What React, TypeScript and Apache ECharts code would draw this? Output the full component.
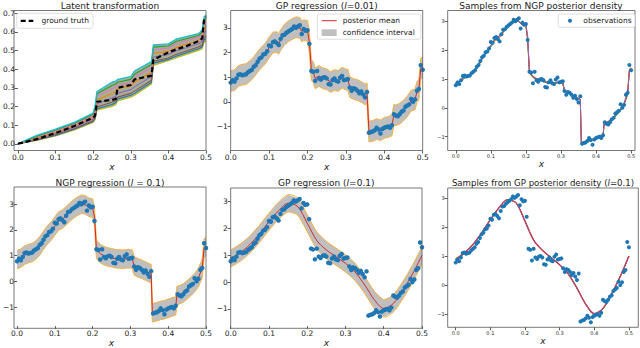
import React, { useEffect, useRef } from "react";
import * as echarts from "echarts";

// ---------- observations (shared by panels 2-6) ----------
const obsX = [0, 0.005, 0.01, 0.015, 0.02, 0.025, 0.03, 0.035, 0.04, 0.045, 0.05, 0.055, 0.06, 0.065, 0.07, 0.075, 0.08, 0.085, 0.09, 0.095,
  0.1, 0.105, 0.11, 0.115, 0.12, 0.125, 0.13, 0.135, 0.14, 0.145, 0.15, 0.155, 0.16, 0.165, 0.17, 0.175, 0.18, 0.185, 0.19, 0.195,
  0.2, 0.205, 0.21, 0.215, 0.22, 0.225, 0.23, 0.235, 0.24, 0.245, 0.25, 0.255, 0.26, 0.265, 0.27, 0.275, 0.28, 0.285, 0.29, 0.295,
  0.3, 0.305, 0.31, 0.315, 0.32, 0.325, 0.33, 0.335, 0.34, 0.345, 0.35, 0.355, 0.36, 0.365, 0.37, 0.375, 0.38, 0.385, 0.39, 0.395,
  0.4, 0.405, 0.41, 0.415, 0.42, 0.425, 0.43, 0.435, 0.44, 0.445, 0.45, 0.455, 0.46, 0.465, 0.47, 0.475, 0.48, 0.485, 0.49, 0.495, 0.5];
const obsY = [0.78, 0.88, 0.82, 0.95, 1.1, 1.12, 1.08, 1.1, 1.12, 1.2, 1.25, 1.3, 1.42, 1.48, 1.62, 1.75, 1.8, 1.92, 1.95, 2.05,
  2.28, 2.25, 2.42, 2.45, 2.38, 2.3, 2.55, 2.7, 2.72, 2.8, 2.85, 2.9, 2.95, 3.05, 3.0, 3.05, 3.1, 2.75, 2.95, 2.88,
  2.9, 2.35, 1.25, 1.22, 0.85, 1.25, 0.95, 0.9, 0.98, 1.0, 0.95, 0.72, 0.7, 0.88, 0.95, 0.85, 0.82, 0.98, 1.05, 0.88,
  0.9, 0.92, 0.58, 0.45, 0.55, 0.52, 0.45, 0.35, 0.42, 0.3, 0.18, 0.4, -1.25, -1.22, -1.2, -1.15, -1.05, -1.12, -1.28, -1.1,
  -1.05, -1.02, -1.0, -1.05, -0.95, -0.5, -0.55, -0.58, -0.5, -0.4, -0.35, -0.2, -0.15, -0.1, 0.12, 0.0, 0.1, 0.45, 0.52, 1.48, 1.3];

// ---------- latent transformation ----------
const latentX = [0, 0.05, 0.1, 0.15, 0.2, 0.205, 0.21, 0.25, 0.26, 0.265, 0.3, 0.31, 0.355, 0.36, 0.4, 0.42, 0.45, 0.48, 0.49, 0.495, 0.5];
const latentTruth = [0, 0.025, 0.058, 0.095, 0.14, 0.15, 0.225, 0.235, 0.24, 0.3, 0.315, 0.345, 0.365, 0.45, 0.49, 0.505, 0.525, 0.55, 0.565, 0.67, 0.68];
const latentUpper = [0, 0.045, 0.078, 0.115, 0.165, 0.2, 0.28, 0.33, 0.335, 0.345, 0.36, 0.39, 0.44, 0.53, 0.535, 0.56, 0.575, 0.59, 0.61, 0.68, 0.69];
const latentLower = [0, 0.018, 0.042, 0.075, 0.115, 0.13, 0.18, 0.2, 0.21, 0.23, 0.25, 0.26, 0.32, 0.42, 0.445, 0.46, 0.48, 0.5, 0.51, 0.545, 0.55];
const latentPink = [0, 0.038, 0.07, 0.106, 0.152, 0.182, 0.255, 0.295, 0.305, 0.315, 0.33, 0.355, 0.41, 0.505, 0.512, 0.535, 0.553, 0.57, 0.588, 0.645, 0.655];
const latentOrange = [0, 0.032, 0.062, 0.098, 0.142, 0.168, 0.235, 0.27, 0.28, 0.295, 0.31, 0.33, 0.385, 0.485, 0.495, 0.515, 0.535, 0.553, 0.57, 0.62, 0.63];
const latentPurple = [0, 0.027, 0.055, 0.09, 0.133, 0.155, 0.215, 0.245, 0.255, 0.27, 0.29, 0.305, 0.36, 0.465, 0.478, 0.497, 0.516, 0.536, 0.55, 0.595, 0.605];
const latentBrown = [0, 0.022, 0.048, 0.082, 0.124, 0.142, 0.197, 0.222, 0.232, 0.25, 0.27, 0.282, 0.34, 0.442, 0.46, 0.478, 0.498, 0.518, 0.53, 0.57, 0.578];
const latentGreen = [0, 0.041, 0.074, 0.11, 0.158, 0.19, 0.268, 0.312, 0.32, 0.33, 0.345, 0.372, 0.425, 0.518, 0.524, 0.548, 0.564, 0.58, 0.6, 0.662, 0.672];
const latentBlue = [0, 0.02, 0.045, 0.078, 0.119, 0.136, 0.188, 0.21, 0.22, 0.24, 0.26, 0.27, 0.33, 0.432, 0.452, 0.469, 0.489, 0.509, 0.52, 0.558, 0.564];

// ---------- GP regression l=0.01 ----------
const gp01X = [0, 0.01, 0.02, 0.03, 0.04, 0.05, 0.06, 0.07, 0.08, 0.09, 0.1, 0.11, 0.12, 0.125, 0.13, 0.14, 0.15, 0.16, 0.17, 0.18, 0.185, 0.19, 0.2,
  0.205, 0.21, 0.215, 0.22, 0.23, 0.24, 0.25, 0.26, 0.27, 0.28, 0.29, 0.3, 0.305, 0.31, 0.32, 0.33, 0.34, 0.35, 0.355,
  0.36, 0.37, 0.38, 0.39, 0.4, 0.41, 0.42, 0.425, 0.43, 0.44, 0.45, 0.46, 0.47, 0.48, 0.485, 0.49, 0.495, 0.5];
const gp01Mean = [0.85, 0.88, 1.05, 1.1, 1.12, 1.25, 1.4, 1.62, 1.8, 1.95, 2.2, 2.4, 2.42, 2.35, 2.5, 2.72, 2.85, 2.95, 3.02, 3.0, 2.85, 2.9, 2.88,
  2.4, 1.3, 1.2, 0.95, 1.05, 0.95, 0.92, 0.8, 0.88, 0.85, 0.98, 0.9, 0.9, 0.6, 0.52, 0.48, 0.4, 0.3, 0.35,
  -1.2, -1.18, -1.1, -1.15, -1.05, -1.02, -0.95, -0.52, -0.55, -0.48, -0.35, -0.18, 0.05, 0.1, 0.4, 0.5, 1.35, 1.4];
const gp01Ci = 0.42;

// ---------- NGP regression ----------
const ngpX = [0, 0.01, 0.02, 0.03, 0.04, 0.05, 0.06, 0.07, 0.08, 0.09, 0.1, 0.11, 0.12, 0.13, 0.14, 0.15, 0.16, 0.17, 0.18, 0.19, 0.2,
  0.205, 0.21, 0.22, 0.23, 0.24, 0.25, 0.26, 0.27, 0.28, 0.29, 0.3, 0.305, 0.31, 0.32, 0.33, 0.34, 0.35, 0.355, 0.358,
  0.37, 0.38, 0.39, 0.4, 0.41, 0.42, 0.423, 0.43, 0.44, 0.45, 0.46, 0.47, 0.48, 0.49, 0.495, 0.5];
const ngpMean = [0.85, 0.9, 1.02, 1.08, 1.12, 1.22, 1.38, 1.6, 1.8, 1.95, 2.15, 2.35, 2.42, 2.55, 2.7, 2.82, 2.92, 3.0, 2.98, 2.88, 2.85,
  2.5, 1.25, 1.08, 1.0, 0.95, 0.92, 0.88, 0.87, 0.86, 0.88, 0.88, 0.86, 0.6, 0.53, 0.47, 0.4, 0.33, 0.3, -1.22,
  -1.18, -1.13, -1.1, -1.05, -1.0, -0.95, -0.55, -0.52, -0.45, -0.33, -0.2, -0.05, 0.15, 0.5, 1.3, 1.35];
const ngpSampleGreen = [0.82, 0.88, 0.98, 1.06, 1.1, 1.2, 1.42, 1.65, 1.82, 1.93, 2.1, 2.32, 2.45, 2.58, 2.72, 2.8, 2.9, 3.02, 3.0, 2.9, 2.82,
  2.3, 1.2, 1.05, 0.98, 0.94, 0.9, 0.86, 0.85, 0.84, 0.86, 0.86, 0.84, 0.58, 0.5, 0.44, 0.37, 0.3, 0.28, -1.25,
  -1.2, -1.16, -1.12, -1.08, -1.03, -0.97, -0.6, -0.55, -0.48, -0.37, -0.24, -0.1, 0.1, 0.45, 1.25, 1.3];
const ngpSampleOrange = [0.88, 0.92, 1.0, 1.1, 1.15, 1.25, 1.35, 1.55, 1.78, 1.97, 2.18, 2.3, 2.38, 2.5, 2.68, 2.85, 2.95, 3.05, 3.0, 2.9, 2.88,
  2.45, 1.28, 1.1, 1.02, 0.97, 0.93, 0.9, 0.88, 0.87, 0.9, 0.9, 0.88, 0.62, 0.55, 0.45, 0.38, 0.3, 0.28, -1.2,
  -1.16, -1.1, -1.08, -1.03, -0.98, -0.93, -0.5, -0.5, -0.42, -0.3, -0.18, -0.02, 0.18, 0.55, 1.35, 1.4];
const ngpSampleRed = [0.84, 0.9, 1.03, 1.07, 1.13, 1.23, 1.4, 1.62, 1.8, 1.95, 2.16, 2.36, 2.44, 2.56, 2.7, 2.83, 2.93, 3.08, 2.98, 2.86, 2.85,
  2.4, 1.22, 1.07, 1.0, 0.96, 0.92, 0.88, 0.87, 0.86, 0.87, 0.88, 0.86, 0.6, 0.52, 0.46, 0.4, 0.32, 0.3, -1.22,
  -1.18, -1.14, -1.1, -1.05, -1.0, -0.95, -0.55, -0.52, -0.45, -0.33, -0.2, -0.05, 0.15, 0.5, 1.3, 1.35];
const ngpCi = 0.36;

// ---------- GP regression l=0.1 ----------
const gpX = [0, 0.025, 0.05, 0.075, 0.1, 0.125, 0.15, 0.175, 0.2, 0.225, 0.25, 0.275, 0.3, 0.325, 0.35, 0.375, 0.4, 0.425, 0.45, 0.475, 0.5];
const gpMean = [0.88, 1.1, 1.4, 1.8, 2.25, 2.66, 2.94, 2.82, 2.2, 1.55, 1.2, 0.95, 0.7, 0.38, -0.1, -0.65, -0.98, -0.8, -0.3, 0.3, 1.0];
const gpSampleOrange = [0.92, 1.12, 1.41, 1.8, 2.25, 2.66, 2.94, 2.82, 2.2, 1.55, 1.2, 0.95, 0.7, 0.38, -0.1, -0.65, -1.0, -0.8, -0.3, 0.3, 1.0];
const gpSampleGreen = [0.86, 1.09, 1.4, 1.8, 2.25, 2.66, 2.94, 2.82, 2.2, 1.55, 1.2, 0.95, 0.7, 0.38, -0.1, -0.64, -1.02, -0.82, -0.3, 0.3, 1.0];
const gpCi = 0.32;

// ---------- ticks ----------
const xTicks = [0, 0.1, 0.2, 0.3, 0.4, 0.5];
const yTicks = [-1, 0, 1, 2, 3];
const latentTicks = [0, 0.1, 0.2, 0.3, 0.4, 0.5, 0.6, 0.7];

const FONT = "DejaVu Sans";
const TXT = "#222";
const BLUE = "#1f77b4";
const RED = "#d62728";
const ORANGE = "#ff7f0e";
const GREEN = "#2ca02c";
const PURPLE = "#9467bd";
const BAND = "#bfbfbf";
const EDGE = "#f7b13f";

const zip = (xs: number[], ys: number[]) => xs.map((x, i) => [x, ys[i]]);

function bandItem(xs: number[], lo: number[], hi: number[], fill: string, edge: string | null, smooth = 0) {
  return (params: any, api: any) => {
    const top = xs.map((x, i) => api.coord([x, hi[i]]));
    const bot = xs.map((x, i) => api.coord([x, lo[i]]));
    const children: any[] = [
      { type: "polygon", shape: { points: top.concat(bot.slice().reverse()) }, style: { fill, stroke: null } },
    ];
    if (edge) {
      children.push({ type: "polyline", shape: { points: top, smooth }, style: { fill: null, stroke: edge, lineWidth: 1 } });
      children.push({ type: "polyline", shape: { points: bot, smooth }, style: { fill: null, stroke: edge, lineWidth: 1 } });
    }
    return { type: "group", children };
  };
}

const grids = [
  { left: 14, top: 10.5, width: 192, height: 140 },
  { left: 230.7, top: 10.5, width: 192, height: 140 },
  { left: 447.7, top: 10.5, width: 187.3, height: 140 },
  { left: 14, top: 187, width: 192, height: 141.3 },
  { left: 230.7, top: 188, width: 191.3, height: 140.3 },
  { left: 447.7, top: 188, width: 190.6, height: 139.3 },
];
const xRanges = [[0, 0.5], [0, 0.5], [-0.023, 0.511], [0, 0.5], [0, 0.5], [-0.023, 0.527]];
const yRanges = [[-0.036, 0.714], [-1.97, 3.7], [-1.48, 3.37], [-1.74, 3.67], [-1.64, 3.51], [-1.45, 3.34]];

export default function App() {
  const ref = useRef<HTMLDivElement>(null);
  useEffect(() => {
    if (!ref.current) return;
    const chart = echarts.init(ref.current, null, { renderer: "svg" });
    const small = (i: number) => i === 2 || i === 5;

    const xAxis = grids.map((_, i) => ({
      gridIndex: i,
      type: "value",
      min: xRanges[i][0],
      max: xRanges[i][1],
      name: "x",
      nameLocation: "middle",
      nameGap: small(i) ? 9 : 11,
      nameTextStyle: { fontStyle: "italic", fontFamily: FONT, fontSize: 9, color: TXT },
      axisLine: { show: false, onZero: false },
      axisTick: { show: true, length: 3, customValues: xTicks, lineStyle: { color: "#333", width: 0.8 } },
      axisLabel: {
        customValues: xTicks,
        formatter: (v: number) => v.toFixed(1),
        fontFamily: FONT,
        fontSize: small(i) ? 5 : 7.5,
        color: TXT,
        margin: 3,
      },
      splitLine: { show: false },
    }));
    const yAxis = grids.map((_, i) => ({
      gridIndex: i,
      type: "value",
      min: yRanges[i][0],
      max: yRanges[i][1],
      axisLine: { show: false, onZero: false },
      axisTick: { show: true, length: 3, customValues: i === 0 ? latentTicks : yTicks, lineStyle: { color: "#333", width: 0.8 } },
      axisLabel: {
        customValues: i === 0 ? latentTicks : yTicks,
        formatter: i === 0 ? (v: number) => v.toFixed(1) : (v: number) => (v < 0 ? "\u2212" + Math.abs(v) : String(v)),
        fontFamily: FONT,
        fontSize: small(i) ? 5 : 7.5,
        color: TXT,
        margin: 3,
      },
      splitLine: { show: false },
    }));

    const ax = (i: number) => ({ xAxisIndex: i, yAxisIndex: i });
    const line = (i: number, xs: number[], ys: number[], color: string, width = 1, extra: any = {}) => ({
      type: "line",
      ...ax(i),
      data: zip(xs, ys),
      symbol: "none",
      lineStyle: { color, width },
      z: 3,
      ...extra,
    });
    const scatter = (i: number, size: number) => ({
      type: "scatter",
      ...ax(i),
      data: zip(obsX, obsY),
      symbolSize: size,
      itemStyle: { color: BLUE, opacity: 1 },
      z: 5,
    });
    const band = (i: number, xs: number[], lo: number[], hi: number[], fill: string, edge: string | null, smooth = 0) => ({
      type: "custom",
      ...ax(i),
      data: [[0, 0]],
      clip: true,
      renderItem: bandItem(xs, lo, hi, fill, edge, smooth),
      z: 1,
    });
    const minus = (a: number[], c: number) => a.map((v) => v - c);
    const plus = (a: number[], c: number) => a.map((v) => v + c);

    const series: any[] = [
      // panel 1
      band(0, latentX, latentLower, latentUpper, "#a3b096", null),
      line(0, latentX, latentLower, "#bcbd22", 1.3),
      line(0, latentX, latentBlue, BLUE, 1.1),
      line(0, latentX, latentBrown, "#8c564b", 1.1),
      line(0, latentX, latentPurple, PURPLE, 1.1),
      line(0, latentX, latentOrange, ORANGE, 1.1),
      line(0, latentX, latentPink, "#e377c2", 1.1),
      line(0, latentX, latentGreen, GREEN, 1.1),
      line(0, latentX, latentUpper, "#17becf", 1.3),
      line(0, latentX, latentTruth, "#000", 2.2, { lineStyle: { color: "#000", width: 2.2, type: [5, 3] }, z: 6 }),
      // panel 2
      band(1, gp01X, minus(gp01Mean, gp01Ci), plus(gp01Mean, gp01Ci), BAND, EDGE),
      line(1, gp01X, gp01Mean, RED, 1),
      scatter(1, 4.5),
      // panel 3
      line(2, ngpX, ngpSampleGreen, GREEN, 1),
      line(2, ngpX, ngpSampleOrange, ORANGE, 1),
      line(2, ngpX, ngpSampleRed, RED, 1),
      line(2, ngpX, ngpMean, PURPLE, 1),
      scatter(2, 4),
      // panel 4
      band(3, ngpX, minus(ngpMean, ngpCi), plus(ngpMean, ngpCi), BAND, EDGE),
      line(3, ngpX, ngpMean, RED, 1),
      scatter(3, 4.5),
      // panel 5
      band(4, gpX, minus(gpMean, gpCi), plus(gpMean, gpCi), BAND, EDGE, 0.3),
      line(4, gpX, gpMean, RED, 1, { smooth: 0.3 }),
      scatter(4, 4.5),
      // panel 6
      line(5, gpX, gpSampleOrange, ORANGE, 1, { smooth: 0.3 }),
      line(5, gpX, gpSampleGreen, GREEN, 1, { smooth: 0.3 }),
      line(5, gpX, gpMean, RED, 1.4, { smooth: 0.3 }),
      line(5, gpX, gpMean, PURPLE, 0.7, { smooth: 0.3 }),
      scatter(5, 4),
    ];

    const title = (x: number, y: number, parts: [string, boolean][], size = 9) => ({
      type: "text",
      x,
      y,
      z: 100,
      style: {
        text: parts.map(([t, it]) => `{${it ? "i" : "n"}|${t}}`).join(""),
        rich: {
          n: { fontFamily: FONT, fontSize: size, fill: TXT },
          i: { fontFamily: FONT, fontSize: size, fontStyle: "italic", fill: TXT },
        },
        align: "center",
        verticalAlign: "middle",
        textAlign: "center",
        textVerticalAlign: "middle",
      },
    });
    const ltext = (x: number, y: number, t: string, size = 7.5) => ({
      type: "text",
      x,
      y,
      z: 101,
      style: {
        text: t,
        fontFamily: FONT,
        fontSize: size,
        fill: TXT,
        align: "left",
        verticalAlign: "middle",
        textAlign: "left",
        textVerticalAlign: "middle",
      },
    });
    const box = (x: number, y: number, w: number, h: number) => ({
      type: "rect",
      z: 100,
      shape: { x, y, width: w, height: h, r: 2 },
      style: { fill: "rgba(255,255,255,0.8)", stroke: "#d5d5d5", lineWidth: 0.8 },
    });
    const frames = grids.map((g) => ({
      type: "rect",
      z: 90,
      silent: true,
      shape: { x: g.left, y: g.top, width: g.width, height: g.height },
      style: { fill: null, stroke: "#555", lineWidth: 0.8 },
    }));

    const graphic: any[] = [
      ...frames,
      title(110, 5.5, [["Latent transformation", false]]),
      title(326.7, 5.5, [["GP regression (", false], ["l", true], ["=0.01)", false]]),
      title(541, 5.5, [["Samples from NGP posterior density", false]]),
      title(110, 183, [["NGP regression (", false], ["l", true], [" = 0.1)", false]]),
      title(326.3, 183.3, [["GP regression (", false], ["l", true], ["=0.1)", false]]),
      title(543, 183, [["Samples from GP posterior density (", false], ["l", true], ["=0.1)", false]], 8.6),
      // legend 1
      box(16.7, 13.3, 76.3, 15),
      { type: "line", z: 101, shape: { x1: 20.7, y1: 20.8, x2: 33.3, y2: 20.8 }, style: { stroke: "#000", lineWidth: 2.2, lineDash: [5, 3] } },
      ltext(41.5, 20.8, "ground truth"),
      // legend 2
      box(317.3, 14, 103.4, 25.3),
      { type: "line", z: 101, shape: { x1: 321.7, y1: 20.7, x2: 336.7, y2: 20.7 }, style: { stroke: RED, lineWidth: 1 } },
      { type: "rect", z: 101, shape: { x: 321.7, y: 29.3, width: 15, height: 6.7 }, style: { fill: BAND } },
      ltext(342.7, 20.7, "posterior mean"),
      ltext(342.7, 32.7, "confidence interval"),
      // legend 3
      box(558.3, 14, 76.7, 13.3),
      { type: "circle", z: 101, shape: { cx: 570, cy: 20.7, r: 2 }, style: { fill: BLUE } },
      ltext(583.3, 20.7, "observations", 7.5),
    ];

    chart.setOption({
      animation: false,
      backgroundColor: "#fff",
      grid: grids.map((g) => ({ ...g, show: false, containLabel: false })),
      xAxis,
      yAxis,
      series,
      graphic,
    });
    return () => chart.dispose();
  }, []);
  return <div ref={ref} style={{ position: "fixed", left: 0, top: 0, width: 640, height: 348 }} />;
}
